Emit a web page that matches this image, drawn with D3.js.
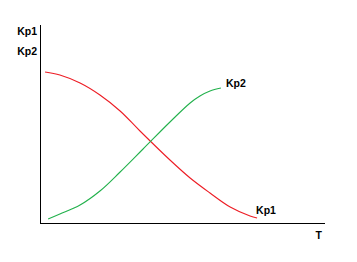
<!DOCTYPE html>
<html>
<head>
<meta charset="utf-8">
<title>Kp1 / Kp2 vs T</title>
<style>
html, body {
  margin: 0;
  padding: 0;
  background: #fff;
}
.curve {
  fill: none;
  stroke-width: 1.1px;
}
.axis path {
  stroke: #000;
  stroke-width: 1.4px;
  shape-rendering: crispEdges;
}
.axis text, .lbl {
  font-family: 'Liberation Sans', Arial, sans-serif;
  font-size: 10.5px;
  font-weight: bold;
  fill: #000;
}
</style>
<script src="https://d3js.org/d3.v7.min.js"></script>
</head>
<body>
<svg width="357" height="262"></svg>
<script>

// T on the horizontal axis (0..100), Kp on the vertical axis (0..100)
var kp1T = [1.8, 7.1, 14.3, 21.4, 28.6, 35.7, 46.4, 53.6, 60.7, 67.9, 75, 77.5];
var kp1V = [75.5, 74, 70, 64, 56, 46, 31.5, 22.5, 15, 8, 3.5, 2.5];

var kp2T = [2.9, 7.1, 14.3, 21.4, 28.6, 36.8, 46.4, 53.6, 57.1, 60.7, 64.6];
var kp2V = [2, 4.5, 9, 16, 25.5, 37, 50.5, 60, 63.5, 66, 67.5];

var yTicks = [96, 86];
var yTickLabels = ["Kp1", "Kp2"];
var xTicks = [99.3];
var xTickLabels = ["T"];

var svg = d3.select("svg");

var x = d3.scaleLinear().domain([0, 101.4]).range([40, 324]);
var y = d3.scaleLinear().domain([0, 99.5]).range([223, 24]);

var line = d3.line()
    .x(function(d) { return x(d[0]); })
    .y(function(d) { return y(d[1]); })
    .curve(d3.curveCatmullRom.alpha(0.5));

var kp1 = d3.zip(kp1T, kp1V),
    kp2 = d3.zip(kp2T, kp2V);

svg.append("path")
    .attr("class", "curve")
    .attr("stroke", "#ed1c24")
    .attr("d", line(kp1));

svg.append("path")
    .attr("class", "curve")
    .attr("stroke", "#22b14c")
    .attr("d", line(kp2));

svg.append("g")
    .attr("class", "axis")
    .attr("transform", "translate(" + x(0) + ",0)")
    .call(d3.axisLeft(y).tickValues(yTicks).tickSize(0).tickPadding(3)
      .tickFormat(function(d, i) { return yTickLabels[i]; }))
    .call(function(g) { g.attr("font-family", null).attr("font-size", null); });

svg.append("g")
    .attr("class", "axis")
    .attr("transform", "translate(0," + y(0) + ")")
    .call(d3.axisBottom(x).tickValues(xTicks).tickSize(0).tickPadding(9)
      .tickFormat(function(d, i) { return xTickLabels[i]; }))
    .call(function(g) { g.attr("font-family", null).attr("font-size", null); });

// end-of-curve labels
var last1 = kp1[kp1.length - 1],
    last2 = kp2[kp2.length - 1];

svg.append("text")
    .attr("class", "lbl")
    .attr("x", x(last1[0]) - 1)
    .attr("y", y(last1[1]) - 4)
    .text("Kp1");

svg.append("text")
    .attr("class", "lbl")
    .attr("x", x(last2[0]) + 5)
    .attr("y", y(last2[1]) - 1)
    .text("Kp2");

</script>
</body>
</html>
